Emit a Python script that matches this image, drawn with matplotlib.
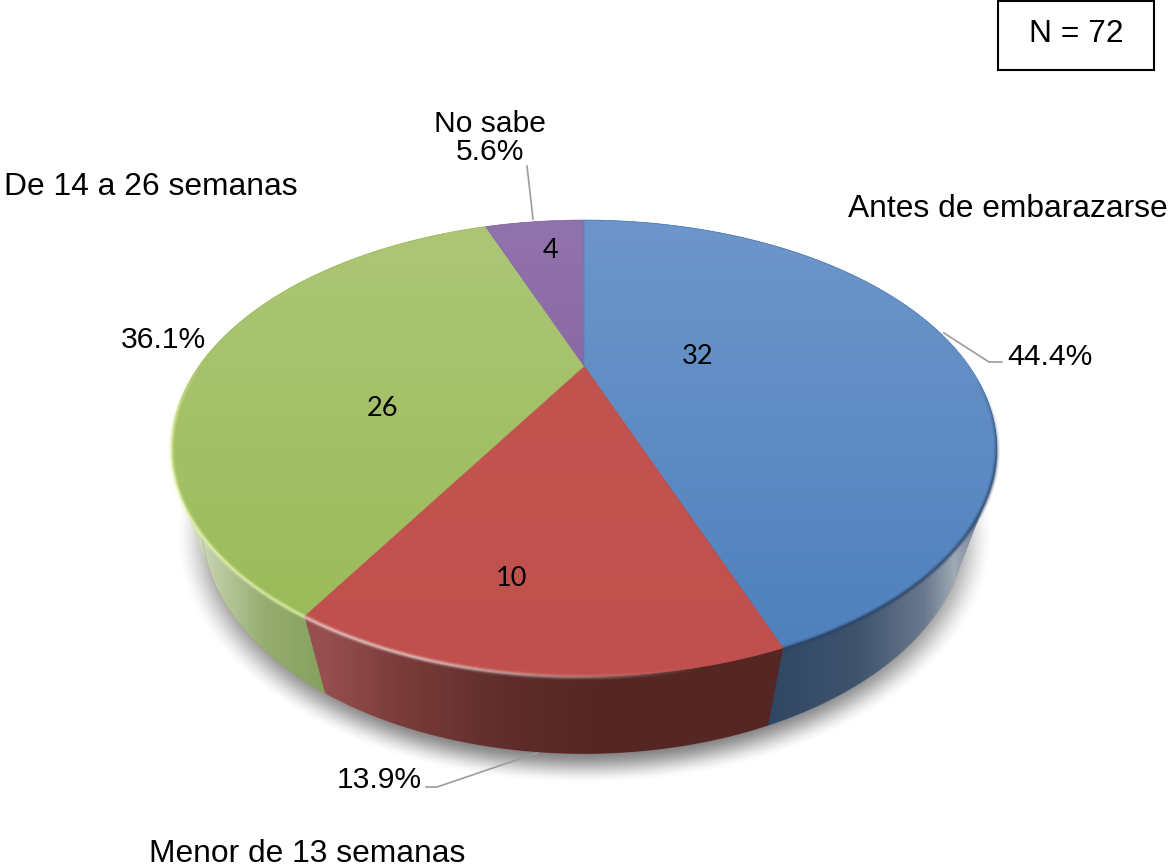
import numpy as np
import matplotlib
matplotlib.use('Agg')
import matplotlib.pyplot as plt
from matplotlib.collections import LineCollection
from matplotlib.colors import LinearSegmentedColormap, to_rgb
from matplotlib.patches import Polygon, Rectangle

categories = ['Antes de embarazarse', 'Menor de 13 semanas', 'De 14 a 26 semanas', 'No sabe']
values = [32, 10, 26, 4]
percents = ['44.4%', '13.9%', '36.1%', '5.6%']

plt.rcParams['font.family'] = ['Liberation Sans', 'DejaVu Sans']
W, H = 1172, 867

# pie geometry in pixels: tilted circle with perspective
CX, CY = 584, 366
A, B, K = 385, 198.5, 0.36
DEPTH, SHRINK = 78, 0.925


def top_xy(theta):
    # theta in radians, clockwise from 12 o'clock
    x, y = np.sin(theta), -np.cos(theta)
    d = 1 - K * y
    return CX + A * x / d, CY + B * y / d


def low_xy(theta):
    x, y = top_xy(theta)
    return CX + SHRINK * (x - CX), y + DEPTH


def hull(pts):
    # monotone chain, wall outline includes the tangent between both rims
    pts = sorted(map(tuple, pts))

    def half(seq):
        out = []
        for p in seq:
            while len(out) > 1 and ((out[-1][0] - out[-2][0]) * (p[1] - out[-2][1])
                                    - (out[-1][1] - out[-2][1]) * (p[0] - out[-2][0])) <= 0:
                out.pop()
            out.append(p)
        return out[:-1]
    return np.array(half(pts) + half(pts[::-1]))


def grad_image(ax, stops, poly, horizontal):
    # paint a colour ramp, clipped to a polygon
    cmap = LinearSegmentedColormap.from_list('g', stops, N=2048)
    if horizontal:
        arr = np.linspace(0, 1, 1172).reshape(1, -1)
    else:
        arr = np.linspace(0, 1, 867).reshape(-1, 1)
    im = ax.imshow(arr, cmap=cmap, extent=(0, W, H, 0), aspect='auto', zorder=poly.get_zorder())
    im.set_clip_path(poly)
    return im


def xstops(pairs):
    return [(x / W, tuple(c / 255 for c in col)) for x, col in
            [(0, pairs[0][1])] + pairs + [(W, pairs[-1][1])]]


def ystops(pairs):
    return [(y / H, tuple(c / 255 for c in col)) for y, col in
            [(0, pairs[0][1])] + pairs + [(H, pairs[-1][1])]]


def bevel(ax, xs, ys, color, strength):
    # soft line along the front edge, alpha varies along the arc
    segs = np.stack([np.column_stack([xs[:-1], ys[:-1]]), np.column_stack([xs[1:], ys[1:]])], axis=1)
    rgb = to_rgb(color)
    for lw, a, z in [(4.5, 0.16, 3.2), (2.8, 0.28, 3.3), (1.4, 0.55, 3.4)]:
        cols = [(*rgb, a * s) for s in strength[:-1]]
        ax.add_collection(LineCollection(segs, colors=cols, linewidths=lw, zorder=z, capstyle='butt'))


fig = plt.figure(figsize=(W / 100, H / 100), dpi=100)
ax = fig.add_axes([0, 0, 1, 1])

# soft shadow under the pie
gx, gy = np.meshgrid(np.arange(W), np.arange(H))
r = np.sqrt(((gx - 584) / 410) ** 2 + ((gy - 536) / 248) ** 2)
t = np.clip((1.0 - r) / 0.14, 0, 1)
shadow = np.zeros((H, W, 4))
shadow[..., 3] = 0.5 * t * t * (3 - 2 * t)
ax.imshow(shadow, extent=(0, W, H, 0), aspect='auto', zorder=1)

fracs = np.array(values) / sum(values)
edges = np.concatenate([[0], np.cumsum(fracs)]) * 2 * np.pi

wall_ramps = [
    [(767, (47, 70, 98)), (860, (64, 84, 110)), (925, (105, 120, 142)), (955, (160, 170, 182)), (985, (105, 120, 150))],
    [(328, (150, 78, 78)), (400, (122, 60, 58)), (500, (96, 46, 44)), (600, (84, 38, 36)), (780, (84, 38, 36))],
    [(178, (225, 232, 210)), (215, (190, 205, 165)), (265, (150, 172, 112)), (328, (132, 160, 92))],
    [(480, (110, 85, 130)), (590, (110, 85, 130))],
]
top_ramps = [
    [(220, (110, 150, 202)), (660, (78, 128, 189))],
    [(366, (194, 84, 80)), (680, (192, 80, 77))],
    [(225, (172, 198, 118)), (630, (155, 187, 89))],
    [(220, (145, 115, 172)), (366, (140, 105, 165))],
]
rim_colors = ['#2b4568', '#f6dcda', '#e9f8b0', '#8a6aa8']
line_colors = ['#4f7fb8', '#c0504d', '#a0bc60', '#8f70aa']

# side walls first, back ones get covered by the top face
# front slice goes last so the neighbours' hulls do not cover it
for i in [3, 2, 0, 1]:
    th = np.linspace(edges[i], edges[i + 1], 200)
    tx, ty = top_xy(th)
    lx, ly = low_xy(th)
    pts = hull(np.column_stack([np.r_[tx, lx], np.r_[ty, ly]]))
    wall = Polygon(pts, closed=True, transform=ax.transData, zorder=2)
    grad_image(ax, xstops(wall_ramps[i]), wall, True)
    # thin pale outline on the lower rim
    ax.plot(lx, ly, color='#9a9a9a', lw=0.6, alpha=0.5, zorder=2.1)

for i in range(len(values)):
    th = np.linspace(edges[i], edges[i + 1], 300)
    tx, ty = top_xy(th)
    pts = np.column_stack([np.r_[CX, tx], np.r_[CY, ty]])
    face = Polygon(pts, closed=True, transform=ax.transData, zorder=3)
    grad_image(ax, ystops(top_ramps[i]), face, False)
    ax.plot(pts[:, 0], pts[:, 1], color=line_colors[i], lw=0.5, zorder=3.1)
    # bevel, brightest on the lower left, gone by the middle of the front
    if i == 0:
        s = np.clip((th - np.pi * 0.52) / 0.4, 0, 1)
    elif i == 1:
        s = np.clip((th - np.radians(168)) / np.radians(28), 0, 1)
    elif i == 2:
        s = np.clip((np.radians(272) - th) / np.radians(20), 0, 1)
    else:
        s = np.zeros_like(th)
    bevel(ax, tx, ty + 1, rim_colors[i], s)

# counts on the slices
count_pos = [(698, 356), (511, 578), (382, 409), (551, 250)]
for v, (x, y) in zip(values, count_pos):
    ax.text(x, y, str(v), fontsize=19.5, family=['Lato', 'DejaVu Sans'], ha='center', va='center',
            color='black', zorder=5)

# leader lines
leaders = [
    ([944, 989, 1002], [333, 362, 362]),
    ([537, 437, 426], [753, 787, 787]),
    ([533, 527], [219, 166]),
]
for lx, ly in leaders:
    ax.plot(lx, ly, color='#9c9c9c', lw=1.2, zorder=4)

FS = 22.9
FS_PCT = 21.6
ax.text(1007, 357, percents[0], fontsize=FS_PCT, ha='left', va='center', zorder=5)
ax.text(379, 780, percents[1], fontsize=FS_PCT, ha='center', va='center', zorder=5)
ax.text(163, 340, percents[2], fontsize=FS_PCT, ha='center', va='center', zorder=5)
ax.text(490, 138, categories[3] + '\n' + percents[3], fontsize=FS_PCT, ha='center', va='center',
        linespacing=1.0, zorder=5)
ax.text(848, 209, categories[0], fontsize=FS, ha='left', va='center', zorder=5)
ax.text(307, 854, categories[1], fontsize=FS, ha='center', va='center', zorder=5)
ax.text(4, 187, categories[2], fontsize=FS, ha='left', va='center', zorder=5)

# N box
ax.add_patch(Rectangle((998, 1), 156, 69, fc='white', ec='black', lw=1.5, zorder=5))
ax.text(1076, 34, 'N = 72', fontsize=FS, ha='center', va='center', zorder=6)

ax.set_xlim(0, W)
ax.set_ylim(H, 0)
ax.axis('off')
fig.savefig('out.png', dpi=100, facecolor='white')
